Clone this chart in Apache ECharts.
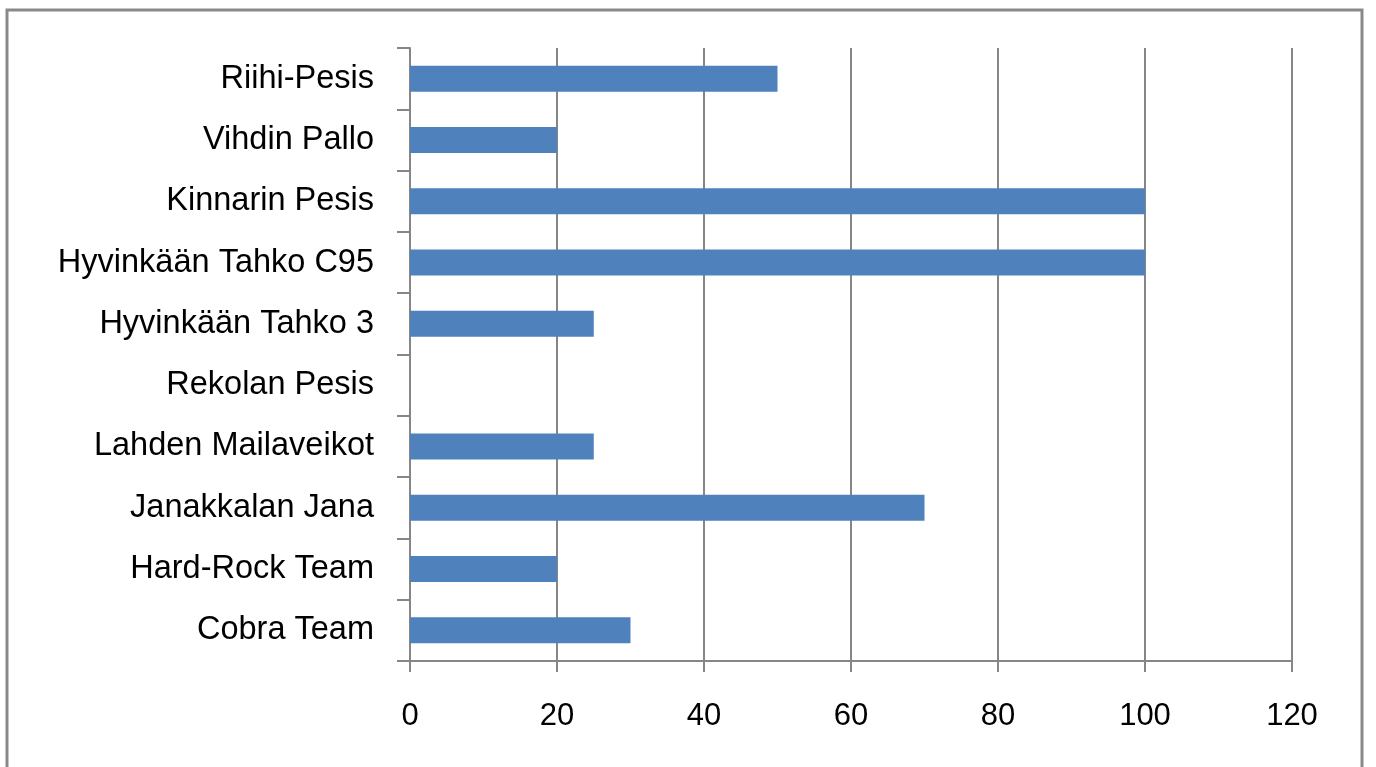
<!DOCTYPE html>
<html>
<head>
<meta charset="utf-8">
<script src="https://cdn.jsdelivr.net/npm/echarts@6/dist/echarts.min.js"></script>
<style>
html,body{margin:0;padding:0;background:#fff;}
#c{width:1376px;height:767px;}
</style>
</head>
<body>
<div id="c"></div>
<script>
const categories = ["Cobra Team","Hard-Rock Team","Janakkalan Jana","Lahden Mailaveikot","Rekolan Pesis","Hyvinkään Tahko 3","Hyvinkään Tahko C95","Kinnarin Pesis","Vihdin Pallo","Riihi-Pesis"];
const values = [30,20,70,25,0,25,100,100,20,50];
const xTicks = {min:0,max:120,interval:20};

const chart = echarts.init(document.getElementById('c'));
chart.setOption({
  animation:false,
  backgroundColor:'#fff',
  graphic:[{
    type:'rect',
    shape:{x:7,y:10,width:1355,height:800},
    style:{fill:'none',stroke:'#898989',lineWidth:3}
  }],
  grid:{left:410,right:84,top:48,bottom:106,containLabel:false},
  xAxis:{
    type:'value',min:xTicks.min,max:xTicks.max,interval:xTicks.interval,
    axisLine:{show:true,lineStyle:{color:'#868686',width:2}},
    axisTick:{show:true,length:11,lineStyle:{color:'#868686',width:2}},
    splitLine:{show:true,lineStyle:{color:'#868686',width:2}},
    axisLabel:{color:'#000',fontFamily:'Liberation Sans, Arial, sans-serif',fontSize:31,margin:40}
  },
  yAxis:{
    type:'category',data:categories,
    axisLine:{show:true,lineStyle:{color:'#868686',width:2}},
    axisTick:{show:true,length:13,lineStyle:{color:'#868686',width:2}},
    axisLabel:{color:'#000',fontFamily:'Liberation Sans, Arial, sans-serif',fontSize:32.5,margin:36}
  },
  series:[{
    type:'bar',data:values,barWidth:26,
    itemStyle:{color:'#4F81BD'}
  }]
});
</script>
</body>
</html>
